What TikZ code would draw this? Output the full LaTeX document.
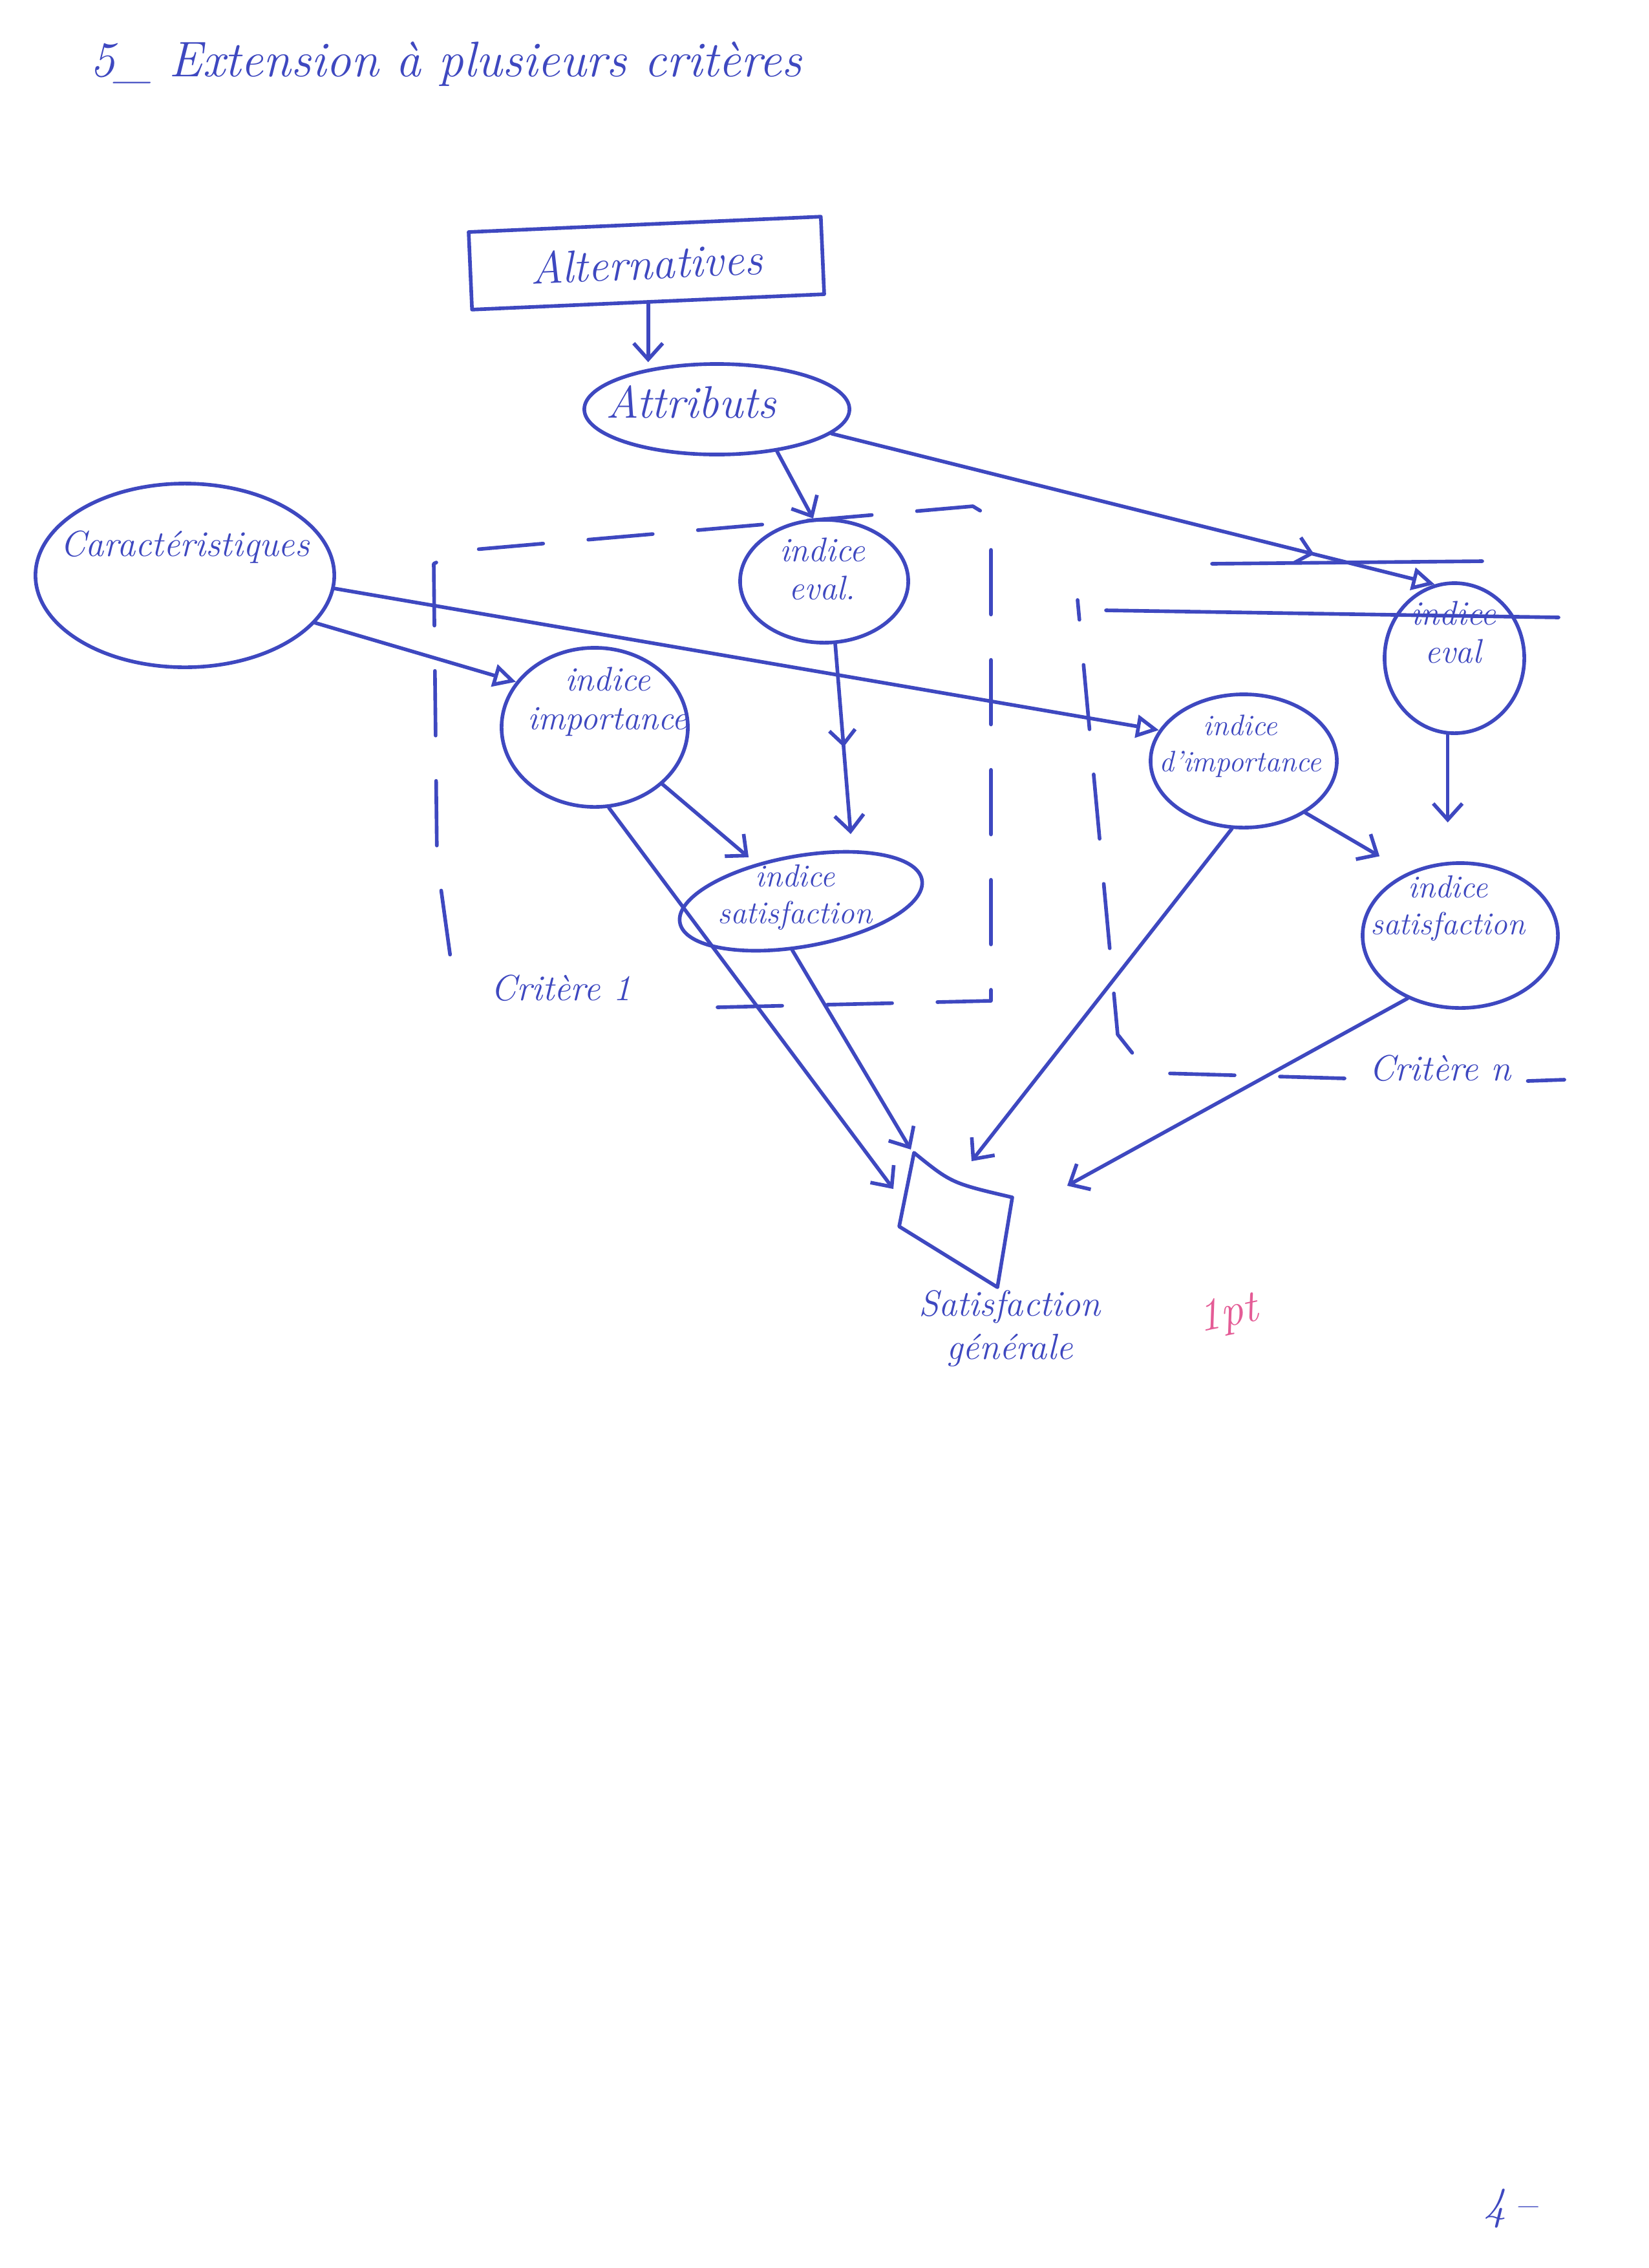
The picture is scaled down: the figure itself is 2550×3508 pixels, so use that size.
\documentclass[tikz,border=0pt]{standalone}
\usepackage{fontspec}
\usetikzlibrary{arrows.meta,shapes.geometric,decorations.markings,calc}
\definecolor{ink}{RGB}{62,72,192}
\definecolor{redpen}{RGB}{228,92,150}
\begin{document}
\begin{tikzpicture}[x=0.01cm,y=-0.01cm,
  ink/.style={draw=ink,line width=1.6pt,line cap=round,line join=round},
  hand/.style={text=ink,font=\itshape\fontsize{15}{17}\selectfont,align=center,inner sep=0pt},
  big/.style={font=\itshape\fontsize{20}{24}\selectfont},
  ell/.style={ellipse,ink,inner sep=0pt},
  arr/.style={ink,-{Straight Barb[length=0.25cm,width=0.45cm]}},
  triarr/.style={ink,-{Triangle[open,length=0.35cm,width=0.35cm]}},
  midmark/.style={postaction={decorate},decoration={markings,mark=at position #1 with {\arrow{Straight Barb[length=0.22cm,width=0.4cm]}}}},
  crit/.style={ink,dash pattern=on 1cm off 0.7cm},
]
\useasboundingbox[fill=white] (0,0) rectangle (2550,3508);

% title
\node[hand,font=\itshape\fontsize{22}{26}\selectfont,anchor=base west] (title) at (139,118) {5\_ Extension à plusieurs critères};

% nodes
\node[ink,rectangle,rotate=2.5,minimum width=5.45cm,minimum height=1.2cm,text=ink,big] (alt) at (1000,407) {Alternatives};

\node[ell,minimum width=4.1cm,minimum height=1.4cm] (attr) at (1109,633) {};
\node[hand,big] (attrT) at (1069,622) {Attributs};

\node[ell,minimum width=4.62cm,minimum height=2.84cm] (car) at (286,890) {};
\node[hand,font=\itshape\fontsize{16}{19}\selectfont] (carT) at (286,846) {Caractéristiques};

\node[ell,minimum width=2.6cm,minimum height=1.9cm] (evalA) at (1275,899) {};
\node[hand] (evalAT) at (1272,880) {indice\\eval.};

\node[ell,minimum width=2.88cm,minimum height=2.46cm] (impA) at (920,1125) {};
\node[hand] (impAT) at (940,1085) {indice\\importance};

\node[ell,rotate=10,minimum width=3.8cm,minimum height=1.4cm] (satA) at (1239,1394) {};
\node[hand,font=\itshape\fontsize{14}{16}\selectfont] (satAT) at (1230,1388) {indice\\satisfaction};

\node[ell,minimum width=2.88cm,minimum height=2.06cm] (impB) at (1924,1177) {};
\node[hand,font=\itshape\fontsize{13}{16}\selectfont] (impBT) at (1919,1154) {indice\\d'importance};

\node[ell,minimum width=2.16cm,minimum height=2.32cm] (evalB) at (2250,1018) {};
\node[hand] (evalBT) at (2248,978) {indice\\eval};

\node[ell,minimum width=3.02cm,minimum height=2.24cm] (satB) at (2259,1447) {};
\node[hand,font=\itshape\fontsize{14}{16}\selectfont] (satBT) at (2240,1405) {indice\\satisfaction};

% satisfaction generale
\coordinate (sg1) at (1414,1783);
\coordinate (sg2) at (1566,1852);
\coordinate (sg3) at (1543,1991);
\coordinate (sg4) at (1391,1897);
\draw[ink] (sg1) .. controls (1472,1830) .. (sg2) -- (sg3) -- (sg4) -- cycle;
\node[hand,font=\itshape\fontsize{16}{19}\selectfont] (sgT) at (1562,2055) {Satisfaction\\générale};
\coordinate (sgA) at (1382,1839);
\coordinate (sgB) at (1409,1778);
\coordinate (sgC) at (1503,1796);
\coordinate (sgD) at (1651,1834);

% criterion boxes
\draw[crit] (1110,1558) -- (1533,1548) -- (1533,800) -- (1505,783) -- (711,852) -- (671,872) -- (676,1330) -- (705,1540);
\node[hand,font=\itshape\fontsize{16}{19}\selectfont] (critA) at (868,1528) {Critère 1};

\draw[crit] (2080,1668) -- (1800,1660) -- (1767,1648) -- (1729,1600) -- (1667,928);
\draw[ink] (1711,944) -- (2411,955);
\draw[ink] (1875,872) -- (2293,868);
\node[hand,font=\itshape\fontsize{16}{19}\selectfont] (critB) at (2228,1652) {Critère n};
\coordinate (critBend) at (2420,1670);
\draw[ink] ($(critB.east)+(25,20)$) -- (critBend);

% connectors
\draw[arr] (alt.south) -- (alt.south |- attr.north);
\draw[arr] (attr.-35) -- (evalA.100);
\draw[triarr,midmark=0.8] (attr.-12) -- (evalB.105);
\draw[triarr] (car.-20) -- (impA.150);
\draw[triarr] (car.-5) -- (impB.160);
\draw[arr,midmark=0.5,shorten >=0.25cm] (evalA.-80) -- (satA.35);
\draw[arr,shorten >=0.15cm] (impA.-40) -- (satA.130);
\draw[arr] (impA.-80) -- (sgA);
\draw[arr] (satA.-110) -- (sgB);
\draw[arr] (impB.-100) -- (sgC);
\draw[arr] (satB.-130) -- (sgD);
\draw[arr,shorten >=0.6cm] (evalB.-95) -- (evalB.-95 |- satB.north);
\draw[arr,shorten >=0.5cm] (impB.-40) -- (satB.130);

% annotations
\node[text=redpen,font=\itshape\fontsize{20}{20}\selectfont,rotate=12] (note) at (1900,2035) {1pt};
\node[hand,big] (page) at (2337,3416) {4\,–};
\end{tikzpicture}
\end{document}
